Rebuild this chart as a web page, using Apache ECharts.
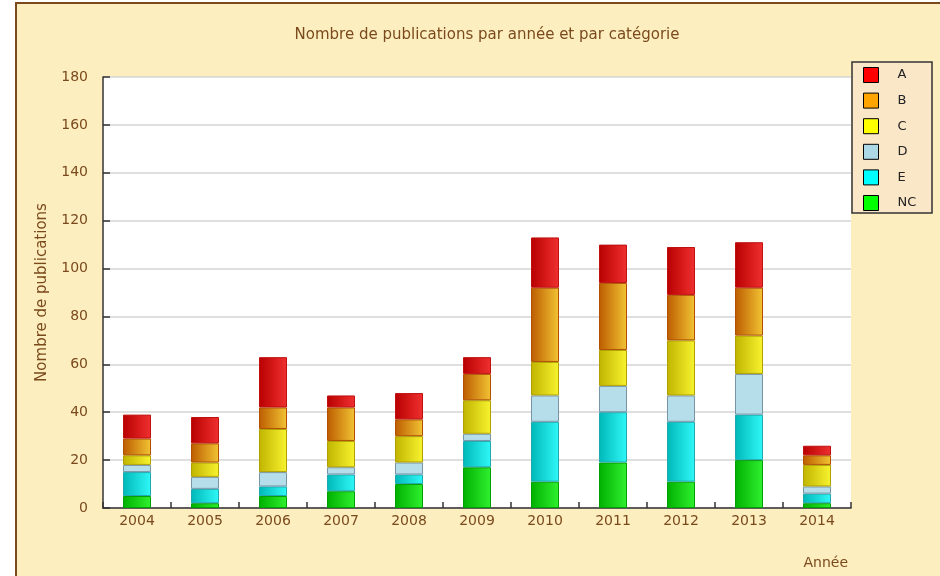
<!DOCTYPE html>
<html>
<head>
<meta charset="utf-8">
<script src="https://cdn.jsdelivr.net/npm/echarts@6/dist/echarts.min.js"></script>
<style>html,body{margin:0;padding:0;background:#fff}#c{width:940px;height:576px}</style>
</head>
<body>
<div id="c"></div>
<script>
const years = ['2004','2005','2006','2007','2008','2009','2010','2011','2012','2013','2014'];
const NC = [5, 2, 5, 7, 10, 17, 11, 19, 11, 20, 2];
const E  = [10, 6, 4, 7, 4, 11, 25, 21, 25, 19, 4];
const D  = [3, 5, 6, 3, 5, 3, 11, 11, 11, 17, 3];
const C  = [4, 6, 18, 11, 11, 14, 14, 15, 23, 16, 9];
const B  = [7, 8, 9, 14, 7, 11, 31, 28, 19, 20, 4];
const A  = [10, 11, 21, 5, 11, 7, 21, 16, 20, 19, 4];
const yTicks = [0, 20, 40, 60, 80, 100, 120, 140, 160, 180];

const brown = '#7a4a1c';
function grad(l, r) {
  return new echarts.graphic.LinearGradient(0, 0, 1, 0, [{offset: 0, color: l}, {offset: 1, color: r}]);
}
const seriesDefs = [
  {name: 'NC', data: NC, fill: grad('#00b000', '#30f030'), border: '#00a000', legend: '#00ff00'},
  {name: 'E',  data: E,  fill: grad('#00b8b8', '#30f8f8'), border: '#20a8b0', legend: '#00ffff'},
  {name: 'D',  data: D,  fill: '#b6deea', border: '#7895a5', legend: '#add8e6'},
  {name: 'C',  data: C,  fill: grad('#c0b400', '#f8f430'), border: '#b0a000', legend: '#ffff00'},
  {name: 'B',  data: B,  fill: grad('#bc5c00', '#f2c434'), border: '#b05000', legend: '#ffa500'},
  {name: 'A',  data: A,  fill: grad('#b80000', '#f03030'), border: '#c01010', legend: '#ff0000'}
];
const legendOrder = ['A', 'B', 'C', 'D', 'E', 'NC'];

const chart = echarts.init(document.getElementById('c'), null, {renderer: 'canvas'});
chart.setOption({
  backgroundColor: '#ffffff',
  animation: false,
  graphic: [
    {type: 'rect', z: -10, silent: true, shape: {x: 16, y: 3, width: 940, height: 590},
     style: {fill: '#fdeec0', stroke: '#7a4a1c', lineWidth: 2}},
    {type: 'rect', z: 10, silent: true, shape: {x: 852, y: 62, width: 80, height: 151},
     style: {fill: '#fae7c8', stroke: '#333333', lineWidth: 1.5}}
  ],
  title: {
    text: 'Nombre de publications par année et par catégorie',
    left: 482, top: 23, textAlign: 'center',
    textStyle: {fontFamily: 'DejaVu Sans', fontSize: 15, fontWeight: 'normal', color: brown}
  },
  legend: {
    orient: 'vertical', left: 858, top: 62, z: 20,
    padding: [5, 5, 5, 5],
    itemWidth: 15, itemHeight: 15, itemGap: 9.6,
    icon: 'rect',
    data: legendOrder.map(n => {
      const d = seriesDefs.find(s => s.name === n);
      return {name: n, itemStyle: {color: d.legend, borderColor: '#000', borderWidth: 1}};
    }),
    textStyle: {fontFamily: 'DejaVu Sans', fontSize: 13, color: '#222', padding: [0, 0, 0, 14]}
  },
  grid: {left: 103, top: 77, right: 89, bottom: 68, show: true, backgroundColor: '#ffffff', borderWidth: 0},
  xAxis: {
    type: 'category', data: years,
    name: 'Année', nameLocation: 'end', nameGap: 0,
    nameTextStyle: {fontFamily: 'DejaVu Sans', fontSize: 14, color: brown, align: 'right', verticalAlign: 'top', padding: [48, 3, 0, 0]},
    axisLine: {lineStyle: {color: '#333', width: 1.5}},
    axisTick: {show: true, inside: true, length: 6, lineStyle: {color: '#333', width: 1.5}},
    axisLabel: {fontFamily: 'DejaVu Sans', fontSize: 14, color: brown, margin: 6},
    splitLine: {show: false}
  },
  yAxis: {
    type: 'value', min: 0, max: 180, interval: 20,
    name: 'Nombre de publications', nameLocation: 'middle', nameGap: 53, nameRotate: 90,
    nameTextStyle: {fontFamily: 'DejaVu Sans', fontSize: 15, color: brown},
    axisLine: {show: true, lineStyle: {color: '#333', width: 1.5}},
    axisTick: {show: true, inside: true, length: 7, lineStyle: {color: '#333', width: 1.5}},
    axisLabel: {fontFamily: 'DejaVu Sans', fontSize: 14, color: brown, margin: 15,
      formatter: v => yTicks.includes(v) ? String(v) : ''},
    splitLine: {show: true, lineStyle: {color: '#d4d4d4', width: 1.5}}
  },
  series: seriesDefs.map(s => ({
    name: s.name, type: 'bar', stack: 'total', data: s.data, barWidth: 28,
    itemStyle: {color: s.fill, borderColor: s.border, borderWidth: 1},
    emphasis: {disabled: true}
  }))
});
</script>
</body>
</html>
